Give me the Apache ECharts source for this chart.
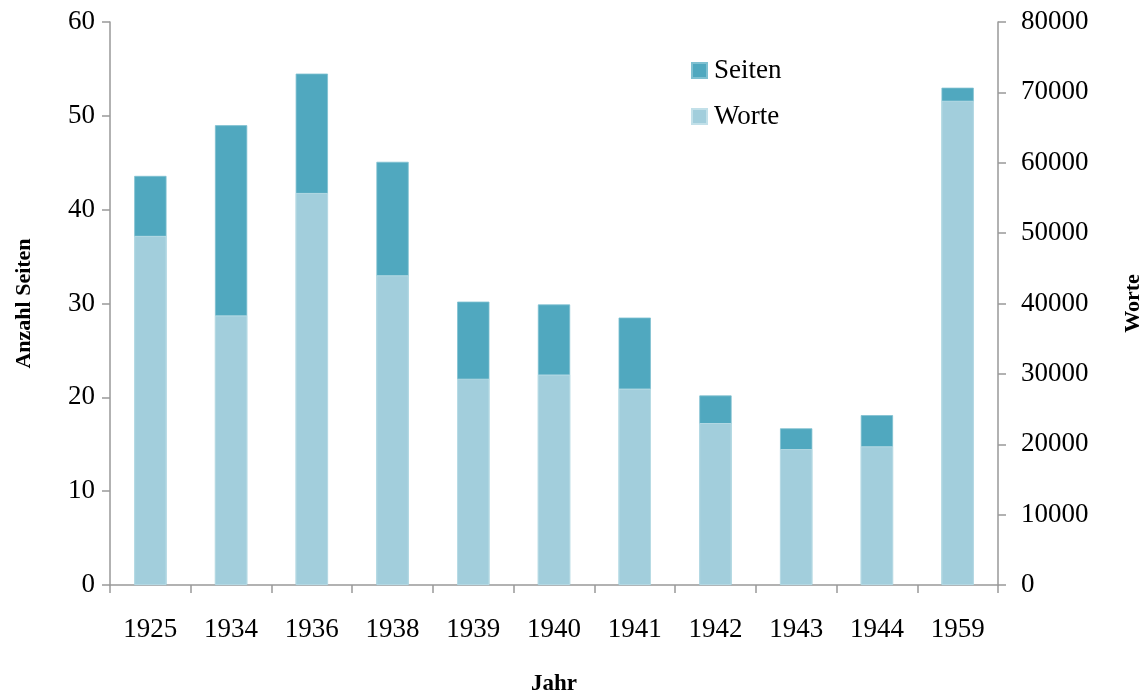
<!DOCTYPE html>
<html>
<head>
<meta charset="utf-8">
<script src="https://cdn.jsdelivr.net/npm/echarts@6/dist/echarts.min.js"></script>
<style>
html,body{margin:0;padding:0;background:#fff;}
#chart{width:1146px;height:694px;}
</style>
</head>
<body>
<div id="chart"></div>
<script>
const years = ['1925','1934','1936','1938','1939','1940','1941','1942','1943','1944','1959'];
const seiten = [43.6, 49.0, 54.5, 45.1, 30.2, 29.9, 28.5, 20.2, 16.7, 18.1, 53.0];
const worte = [49600, 38300, 55700, 44000, 29300, 29900, 27900, 23000, 19300, 19700, 68800];
const leftTicks = [0, 60, 10];
const rightTicks = [0, 80000, 10000];

const FONT = '"Liberation Serif", "DejaVu Serif", serif';
const axisGray = '#999999';

const chart = echarts.init(document.getElementById('chart'), null, {renderer: 'canvas'});
chart.setOption({
  animation: false,
  backgroundColor: '#ffffff',
  textStyle: {fontFamily: FONT},
  grid: {left: 110, right: 148, top: 22, bottom: 109, containLabel: false, outerBoundsMode: 'none'},
  legend: {
    orient: 'vertical',
    left: 686,
    top: 52,
    itemWidth: 15,
    itemHeight: 15,
    itemGap: 19,
    icon: 'rect',
    textStyle: {fontFamily: FONT, fontSize: 27, color: '#000', lineHeight: 27, padding: [0,0,0,2]},
    data: ['Seiten', 'Worte']
  },
  xAxis: {
    type: 'category',
    data: years,
    name: 'Jahr',
    nameLocation: 'middle',
    nameGap: 88,
    nameTextStyle: {fontFamily: FONT, fontSize: 23, fontWeight: 'bold', color: '#000'},
    axisLine: {lineStyle: {color: axisGray, width: 1.5}},
    axisTick: {show: true, length: 8, inside: false, alignWithLabel: false, lineStyle: {color: axisGray, width: 1.5}},
    axisLabel: {fontFamily: FONT, fontSize: 27, color: '#000', margin: 31},
    splitLine: {show: false}
  },
  yAxis: [
    {
      type: 'value',
      position: 'left',
      min: leftTicks[0], max: leftTicks[1], interval: leftTicks[2],
      name: 'Anzahl Seiten',
      nameLocation: 'middle',
      nameRotate: 90,
      nameGap: 75,
      nameTextStyle: {fontFamily: FONT, fontSize: 22, fontWeight: 'bold', color: '#000'},
      axisLine: {show: true, lineStyle: {color: axisGray, width: 1.5}},
      axisTick: {show: true, length: 8, lineStyle: {color: axisGray, width: 1.5}},
      axisLabel: {fontFamily: FONT, fontSize: 27, color: '#000', margin: 15},
      splitLine: {show: false}
    },
    {
      type: 'value',
      position: 'right',
      min: rightTicks[0], max: rightTicks[1], interval: rightTicks[2],
      name: 'Worte',
      nameLocation: 'middle',
      nameRotate: 90,
      nameGap: 124,
      nameTextStyle: {fontFamily: FONT, fontSize: 22, fontWeight: 'bold', color: '#000'},
      axisLine: {show: true, lineStyle: {color: axisGray, width: 1.5}},
      axisTick: {show: true, length: 8, lineStyle: {color: axisGray, width: 1.5}},
      axisLabel: {fontFamily: FONT, fontSize: 27, color: '#000', margin: 23, formatter: v => String(v)},
      splitLine: {show: false}
    }
  ],
  series: [
    {
      name: 'Seiten',
      type: 'bar',
      yAxisIndex: 0,
      data: seiten,
      barWidth: '40%',
      barGap: '-100%',
      itemStyle: {color: '#50a8bf', borderColor: '#7fc0d1', borderWidth: 0.8}
    },
    {
      name: 'Worte',
      type: 'bar',
      yAxisIndex: 1,
      data: worte,
      barWidth: '40%',
      barGap: '-100%',
      itemStyle: {color: '#a2cedc', borderColor: '#c2e0e9', borderWidth: 0.8}
    }
  ]
});
</script>
</body>
</html>
